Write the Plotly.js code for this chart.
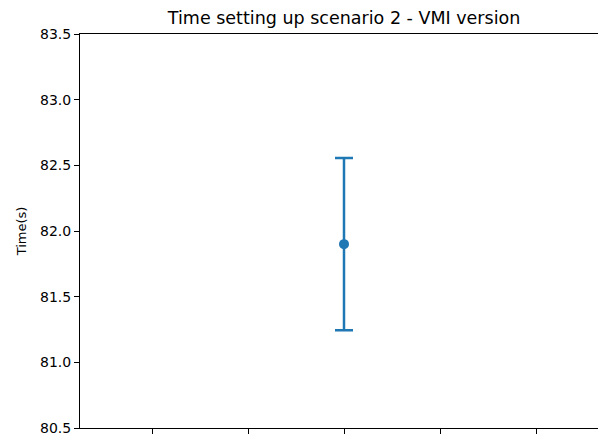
<!DOCTYPE html>
<html>
<head>
<meta charset="utf-8">
<script src="https://cdn.plot.ly/plotly-3.0.1.min.js"></script>
<style>
html, body { margin: 0; padding: 0; overflow: hidden; background: #fff; }
#chart { width: 620px; height: 436px; }
</style>
</head>
<body>
<div id="chart"></div>
<script>
const categories = [0];
const meanTimes = [81.9];
const errorValues = [0.655];
const xTickValues = [-0.04, -0.02, 0, 0.02, 0.04];
const yTickValues = [80.5, 81.0, 81.5, 82.0, 82.5, 83.0, 83.5];

const trace = {
  x: categories,
  y: meanTimes,
  type: 'scatter',
  mode: 'markers',
  marker: { color: '#1f77b4', size: 10 },
  error_y: {
    type: 'data',
    array: errorValues,
    visible: true,
    color: '#1f77b4',
    thickness: 2.5,
    width: 9
  },
  hoverinfo: 'skip'
};

const layout = {
  width: 620,
  height: 436,
  margin: { l: 80, r: 12, t: 34, b: 8 },
  paper_bgcolor: '#fff',
  plot_bgcolor: '#fff',
  showlegend: false,
  font: { family: 'DejaVu Sans, sans-serif', size: 14, color: '#000' },
  title: {
    text: 'Time setting up scenario 2 - VMI version',
    font: { family: 'DejaVu Sans, sans-serif', size: 17.5, color: '#000' },
    x: 0.555, xanchor: 'center',
    y: 0.958, yanchor: 'middle', yref: 'container'
  },
  xaxis: {
    range: [-0.055, 0.055],
    tickvals: xTickValues,
    showticklabels: false,
    ticks: 'outside', ticklen: 5, tickwidth: 1, tickcolor: '#000',
    showgrid: false, zeroline: false,
    showline: true, linecolor: '#000', linewidth: 1, mirror: true
  },
  yaxis: {
    range: [80.5, 83.5],
    tickvals: yTickValues,
    tickformat: '.1f',
    ticks: 'outside', ticklen: 5, tickwidth: 1, tickcolor: '#000',
    tickfont: { family: 'DejaVu Sans, sans-serif', size: 14, color: '#000' },
    showgrid: false, zeroline: false,
    showline: true, linecolor: '#000', linewidth: 1, mirror: true,
    title: { text: 'Time(s)', font: { family: 'DejaVu Sans, sans-serif', size: 13, color: '#000' }, standoff: 10 }
  }
};

Plotly.newPlot('chart', [trace], layout, { staticPlot: true, displayModeBar: false });
</script>
</body>
</html>
